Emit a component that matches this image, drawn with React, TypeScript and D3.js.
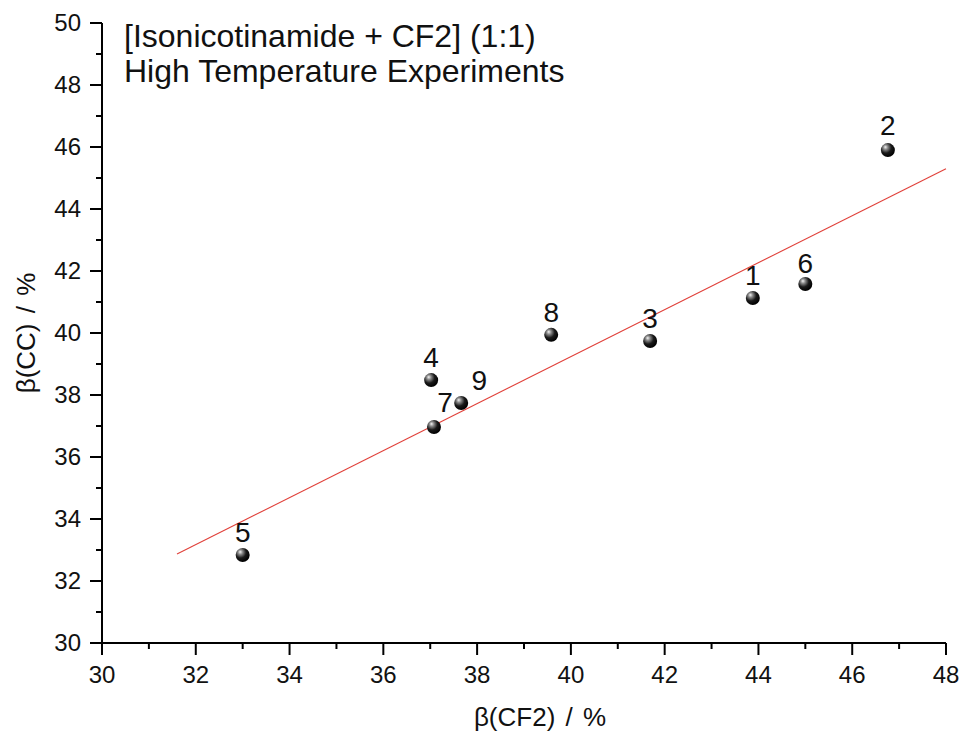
import React from "react";
import * as d3 from "d3";

const pointIds = ["1", "2", "3", "4", "5", "6", "7", "8", "9"];
const xValues = [43.88, 46.76, 41.69, 37.02, 33.0, 45.0, 37.08, 39.58, 37.66];
const yValues = [41.13, 45.9, 39.74, 38.48, 32.84, 41.58, 36.97, 39.94, 37.74];
const labelDx = [0, 0, 0, 0, 0, 0, 11, 0, 18];
const labelDy = [-13, -15, -13, -13, -13, -11, -15, -13, -13];
const fitX = [31.6, 48];
const fitY = [32.87, 45.3];
const xTicks = [30, 32, 34, 36, 38, 40, 42, 44, 46, 48];
const yTicks = [30, 32, 34, 36, 38, 40, 42, 44, 46, 48, 50];
const titleLines = ["[Isonicotinamide + CF2] (1:1)", "High Temperature Experiments"];

const W = 963, H = 733;
const FONT = "'Liberation Sans', Arial, Helvetica, sans-serif";

export default function App() {
  const x = d3.scaleLinear().domain([30, 48]).range([102, 946]);
  const y = d3.scaleLinear().domain([30, 50]).range([643, 23]);
  const xMinor = d3.range(31, 48, 2);
  const yMinor = d3.range(31, 50, 2);
  const line = d3.line<number>().x((d) => x(fitX[d])).y((d) => y(fitY[d]));

  return (
    <svg width={W} height={H} style={{ position: "absolute", left: 0, top: 0, background: "#fff" }} fontFamily={FONT}>
      <defs>
        <radialGradient id="ball" cx="0.38" cy="0.35" r="0.65" fx="0.32" fy="0.28">
          <stop offset="0" stopColor="#f4f4f4" />
          <stop offset="0.25" stopColor="#8a8a8a" />
          <stop offset="0.6" stopColor="#1a1a1a" />
          <stop offset="1" stopColor="#000" />
        </radialGradient>
      </defs>
      <rect width={W} height={H} fill="#fff" />
      {/* fit line */}
      <path d={line([0, 1]) || ""} stroke="#e0403a" strokeWidth={1.1} fill="none" />
      {/* axes */}
      <line x1={x(30)} x2={x(48)} y1={643} y2={643} stroke="#000" strokeWidth={2} />
      <line x1={102} x2={102} y1={y(30)} y2={y(50)} stroke="#000" strokeWidth={2} />
      {xTicks.map((t) => (
        <g key={"xt" + t}>
          <line x1={x(t)} x2={x(t)} y1={643} y2={655} stroke="#000" strokeWidth={2} />
          <text x={x(t)} y={683} textAnchor="middle" fontSize={24} fill="#111">{t}</text>
        </g>
      ))}
      {xMinor.map((t) => (
        <line key={"xm" + t} x1={x(t)} x2={x(t)} y1={643} y2={649} stroke="#000" strokeWidth={2} />
      ))}
      {yTicks.map((t) => (
        <g key={"yt" + t}>
          <line x1={90} x2={102} y1={y(t)} y2={y(t)} stroke="#000" strokeWidth={2} />
          <text x={81} y={y(t)} dy="0.35em" textAnchor="end" fontSize={24} fill="#111">{t}</text>
        </g>
      ))}
      {yMinor.map((t) => (
        <line key={"ym" + t} x1={96} x2={102} y1={y(t)} y2={y(t)} stroke="#000" strokeWidth={2} />
      ))}
      {/* axis titles */}
      <text x={540} y={726} textAnchor="middle" fontSize={26} fill="#111" wordSpacing={3}>β(CF2) / %</text>
      <text transform={`translate(35,${(643 + 23) / 2}) rotate(-90)`} textAnchor="middle" fontSize={26} fill="#111" wordSpacing={3}>β(CC) / %</text>
      {/* title */}
      {titleLines.map((s, i) => (
        <text key={s} x={124} y={47 + i * 35} fontSize={32} fill="#111">{s}</text>
      ))}
      {/* points */}
      {pointIds.map((id, i) => (
        <g key={id}>
          <circle cx={x(xValues[i])} cy={y(yValues[i])} r={7} fill="url(#ball)" />
          <text x={x(xValues[i]) + labelDx[i]} y={y(yValues[i]) + labelDy[i]} textAnchor="middle" fontSize={28} fill="#111">{id}</text>
        </g>
      ))}
    </svg>
  );
}
